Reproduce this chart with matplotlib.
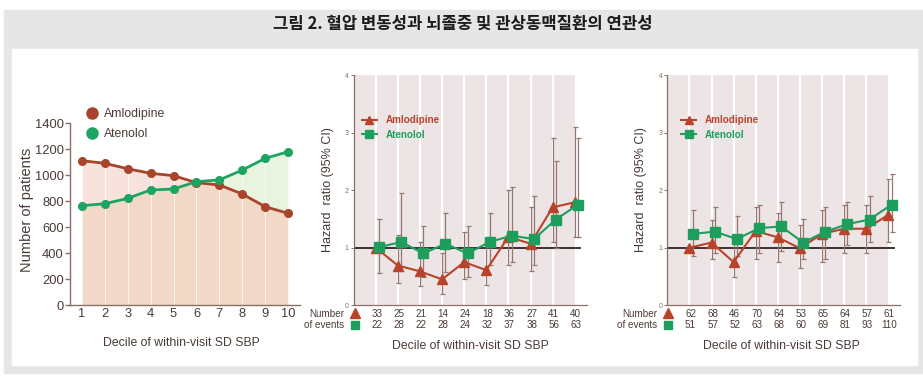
import numpy as np
import matplotlib
matplotlib.use("Agg")
import matplotlib.pyplot as plt
from matplotlib import font_manager
from matplotlib.patches import Rectangle

W, H = 923, 376

title = "그림 2. 혈압 변동성과 뇌졸중 및 관상동맥질환의 연관성"
xlab = "Decile of within-visit SD SBP"
names = ["Amlodipine", "Atenolol"]

deciles = np.arange(1, 11)

# left panel : number of patients per decile
pts_amlo = [1110, 1090, 1048, 1013, 995, 941, 923, 854, 756, 705]
pts_aten = [764, 779, 820, 885, 892, 949, 962, 1038, 1128, 1179]

# middle panel : stroke, HR and 95% CI (decile 1 amlodipine = reference)
stroke_amlo = [1.00, 0.69, 0.59, 0.45, 0.75, 0.61, 1.19, 1.07, 1.70, 1.79]
stroke_amlo_lo = [np.nan, 0.39, 0.34, 0.20, 0.45, 0.35, 0.70, 0.60, 1.10, 1.18]
stroke_amlo_hi = [np.nan, 1.22, 1.10, 0.90, 1.28, 1.10, 2.00, 1.70, 2.90, 3.10]
stroke_aten = [1.01, 1.10, 0.90, 1.07, 0.90, 1.10, 1.21, 1.15, 1.49, 1.75]
stroke_aten_lo = [0.56, 0.60, 0.50, 0.58, 0.50, 0.70, 0.75, 0.70, 1.00, 1.18]
stroke_aten_hi = [1.50, 1.95, 1.38, 1.60, 1.38, 1.60, 2.05, 1.90, 2.50, 2.90]
stroke_evt_amlo = [33, 25, 21, 14, 24, 18, 36, 27, 41, 40]
stroke_evt_aten = [22, 28, 22, 28, 24, 32, 37, 38, 56, 63]

# right panel : coronary events
chd_amlo = [1.00, 1.09, 0.75, 1.29, 1.18, 0.99, 1.24, 1.33, 1.33, 1.57]
chd_amlo_lo = [np.nan, 0.80, 0.50, 0.80, 0.75, 0.65, 0.75, 0.90, 0.90, 1.10]
chd_amlo_hi = [np.nan, 1.48, 1.22, 1.70, 1.60, 1.40, 1.65, 1.75, 1.75, 2.20]
chd_aten = [1.24, 1.28, 1.15, 1.34, 1.37, 1.09, 1.28, 1.41, 1.49, 1.75]
chd_aten_lo = [0.85, 0.90, 0.85, 0.90, 0.95, 0.80, 0.80, 1.05, 1.10, 1.28]
chd_aten_hi = [1.65, 1.70, 1.55, 1.75, 1.80, 1.50, 1.70, 1.80, 1.90, 2.28]
chd_evt_amlo = [62, 68, 46, 70, 64, 53, 65, 64, 57, 61]
chd_evt_aten = [51, 57, 52, 63, 68, 60, 69, 81, 93, 110]

AMLO = "#a8442c"
ATEN = "#1ea462"
AMLO_HR = "#b8432a"
ATEN_HR = "#1e9e5c"
TXT = "#4a3a36"
SPINE = "#8c6e66"
ERR = "#957770"
BAND = "#ede5e5"

avail = {f.name for f in font_manager.fontManager.ttflist}
if "Liberation Sans Narrow" in avail:
    NARROW, S = "Liberation Sans Narrow", 1.0
else:
    NARROW, S = "Liberation Sans", 0.84
plt.rcParams["font.family"] = [NARROW, "DejaVu Sans"]


def box(left, top, right, bottom):
    # pixel box -> figure rect
    return [left / W, 1 - bottom / H, (right - left) / W, (bottom - top) / H]


def fpos(x, y):
    return x / W, 1 - y / H


def panel_patients(fig):
    ax = fig.add_axes(box(70, 123, 300, 305))
    x = deciles
    a = np.array(pts_amlo)
    b = np.array(pts_aten)
    ax.fill_between(x, 0, a, color="#f7e2dc", lw=0)
    ax.fill_between(x, 0, b, color="#f1d8c7", lw=0)
    ax.fill_between(x, a, b, where=b >= a, interpolate=True, color="#e9f4df", lw=0)
    ax.fill_between(x, 0, a, where=a <= b, interpolate=True, color="#f1d8c7", lw=0)
    ax.vlines(x, 0, np.maximum(a, b), color="white", lw=0.8, alpha=0.7)

    ax.plot(x, a, color=AMLO, lw=2, marker="o", ms=5.5)
    ax.plot(x, b, color=ATEN, lw=2, marker="o", ms=5.5)

    ax.set_xlim(0.48, 10.52)
    ax.set_ylim(0, 1400)
    ax.set_xticks(deciles)
    ax.set_yticks(np.arange(0, 1401, 200))
    for s in ["top", "right"]:
        ax.spines[s].set_visible(False)
    for s in ["left", "bottom"]:
        ax.spines[s].set_color(SPINE)
        ax.spines[s].set_linewidth(1)
    ax.tick_params(axis="y", length=3.5, width=1, color=SPINE, pad=1,
                   labelsize=11 * S, labelcolor=TXT)
    ax.tick_params(axis="x", length=0, pad=2, labelsize=11 * S, labelcolor=TXT)
    ax.set_facecolor("none")

    h1, = ax.plot([], [], "o", color=AMLO, ms=8)
    h2, = ax.plot([], [], "o", color=ATEN, ms=8)
    ax.legend([h1, h2], names, loc="upper left", bbox_to_anchor=(0.075, 1.08),
              frameon=False, handlelength=0.8, handletextpad=0.6,
              labelspacing=0.6, borderaxespad=0, borderpad=0,
              prop={"size": 10.5 * S}, labelcolor=TXT)

    fig.text(*fpos(27.5, 210), "Number of patients", rotation=90, ha="center",
             va="center", fontsize=10.5, color=TXT, family=["Liberation Sans"])
    fig.text(*fpos(181.5, 346.5), xlab, ha="center", va="baseline",
             fontsize=10.5 * S, color=TXT)
    return ax


def panel_hr(fig, left, right, amlo, amlo_lo, amlo_hi, aten, aten_lo, aten_hi,
             evt_amlo, evt_aten, ylab_x, xlab_x, leg_x):
    top, bottom = 75, 305.3
    ax = fig.add_axes(box(left, top, right, bottom))
    unit = 22.1
    ax.set_xlim(0, (right - left) / unit)
    ax.set_ylim(0, 4)

    ax.axvspan(0, 10, color=BAND, lw=0, zorder=0)
    ax.vlines(deciles[:-1], 0, 4, color="white", lw=1.6, zorder=1)
    ax.plot([0, 10.25], [1, 1], color="#2e2222", lw=1.3, zorder=2)

    xa = deciles.astype(float)
    xb = deciles + 0.15
    a = np.array(amlo)
    b = np.array(aten)
    ax.errorbar(xa, a, yerr=[a - np.array(amlo_lo), np.array(amlo_hi) - a], fmt="none",
                ecolor=ERR, elinewidth=0.9, capsize=1.8, capthick=0.9, zorder=3)
    ax.errorbar(xb, b, yerr=[b - np.array(aten_lo), np.array(aten_hi) - b], fmt="none",
                ecolor=ERR, elinewidth=0.9, capsize=1.8, capthick=0.9, zorder=3)
    l1, = ax.plot(xa, a, color=AMLO_HR, lw=1.5, marker="^", ms=6.5, zorder=4)
    l2, = ax.plot(xb, b, color=ATEN_HR, lw=1.5, marker="s", ms=7, zorder=5)

    for s in ["top", "right"]:
        ax.spines[s].set_visible(False)
    for s in ["left", "bottom"]:
        ax.spines[s].set_color(SPINE)
        ax.spines[s].set_linewidth(0.9)
    ax.set_xticks([])
    ax.set_yticks([0, 1, 2, 3, 4])
    ax.tick_params(axis="y", length=2.5, width=0.7, color=SPINE, pad=1,
                   labelsize=5, labelcolor=SPINE)

    leg = ax.legend([l1, l2], names, loc="upper left", bbox_to_anchor=(leg_x, 0.825),
                    frameon=False, handlelength=1.5, handletextpad=0.9,
                    labelspacing=0.45, borderaxespad=0, borderpad=0, markerscale=0.85,
                    prop={"size": 8.5 * S, "weight": "bold"})
    leg.get_texts()[0].set_color(AMLO_HR)
    leg.get_texts()[1].set_color(ATEN_HR)

    tr = ax.get_xaxis_transform()
    r1 = (bottom - 316.7) / (bottom - top)
    r2 = (bottom - 328.3) / (bottom - top)
    fs = 8.5 * S
    for i in range(len(deciles)):
        ax.text(deciles[i] + 0.05, r1, str(evt_amlo[i]), transform=tr, ha="center",
                va="baseline", fontsize=fs, color=TXT, clip_on=False)
        ax.text(deciles[i] + 0.05, r2, str(evt_aten[i]), transform=tr, ha="center",
                va="baseline", fontsize=fs, color=TXT, clip_on=False)
    ax.text(-0.45, r1, "Number", transform=tr, ha="right", va="baseline",
            fontsize=fs, color=TXT, clip_on=False)
    ax.text(-0.45, r2, "of events", transform=tr, ha="right", va="baseline",
            fontsize=fs, color=TXT, clip_on=False)
    ax.plot([0.05], [r1 + 0.014], marker="^", ms=7, color=AMLO_HR, transform=tr, clip_on=False)
    ax.plot([0.05], [r2 + 0.014], marker="s", ms=6, color=ATEN_HR, transform=tr, clip_on=False)

    fig.text(*fpos(ylab_x, 190), "Hazard  ratio (95% CI)", rotation=90, ha="center",
             va="center", fontsize=9, color=TXT, family=["Liberation Sans"])
    fig.text(*fpos(xlab_x, 349), xlab, ha="center", va="baseline",
             fontsize=10.5 * S, color=TXT)
    return ax


fig = plt.figure(figsize=(W / 100, H / 100), dpi=100)
fig.patch.set_facecolor("white")
fig.patches.append(Rectangle((4 / W, 3 / H), 1, 363 / H, transform=fig.transFigure,
                             color="#e6e6e6", zorder=-2))
fig.patches.append(Rectangle((12 / W, 11 / H), 905 / W, 316 / H, transform=fig.transFigure,
                             color="white", zorder=-1))
fig.text(*fpos(463, 24), title, ha="center", va="center", fontsize=12,
         color="#1c1c1c", weight="bold", family=["Noto Sans CJK KR", "DejaVu Sans"])

panel_patients(fig)
panel_hr(fig, 353.7, 587, stroke_amlo, stroke_amlo_lo, stroke_amlo_hi,
         stroke_aten, stroke_aten_lo, stroke_aten_hi,
         stroke_evt_amlo, stroke_evt_aten, 327.5, 470, 0.035)
panel_hr(fig, 667.3, 900, chd_amlo, chd_amlo_lo, chd_amlo_hi,
         chd_aten, chd_aten_lo, chd_aten_hi,
         chd_evt_amlo, chd_evt_aten, 640.8, 781.7, 0.06)

fig.savefig("out.png", dpi=100)
